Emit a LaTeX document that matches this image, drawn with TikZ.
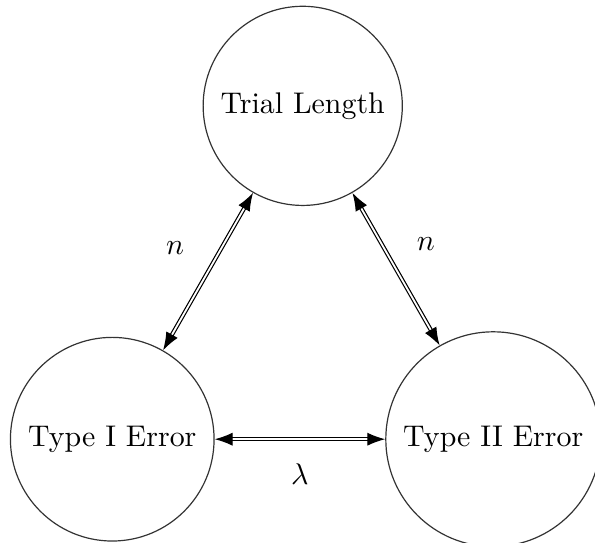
\documentclass[tikz,border=0pt]{standalone}
\usepackage{tikz}
\usetikzlibrary{arrows.meta}
\usepackage{amsmath}

\begin{document}
\begin{tikzpicture}

\useasboundingbox (0,0) rectangle (6.997,6.385);

% Draw the three quantities as circles
\tikzset{quantity/.style={draw=black!80, circle, inner sep=4.7pt}}
\node[quantity] (trial) at (3.56, 5.14) {Trial Length};
\node[quantity] (typeone) at (1.32, 1.22) {Type I Error};
\node[quantity] (typetwo) at (5.80, 1.22) {Type II Error};

% Draw the double arrows between them
\draw [<->,>={Latex[length=6pt,width=4.4pt]}, double] (typeone) -- node[midway, xshift=-11pt, yshift=8pt] {$n$} (trial);
\draw [<->,>={Latex[length=6pt,width=4.4pt]}, double] (trial) -- node[midway, xshift=10pt, yshift=8.5pt] {$n$} (typetwo);
\draw [<->,>={Latex[length=6pt,width=4.4pt]}, double] (typeone) -- node[below=4.8pt] {$\lambda$} (typetwo);

\end{tikzpicture}
\end{document}
